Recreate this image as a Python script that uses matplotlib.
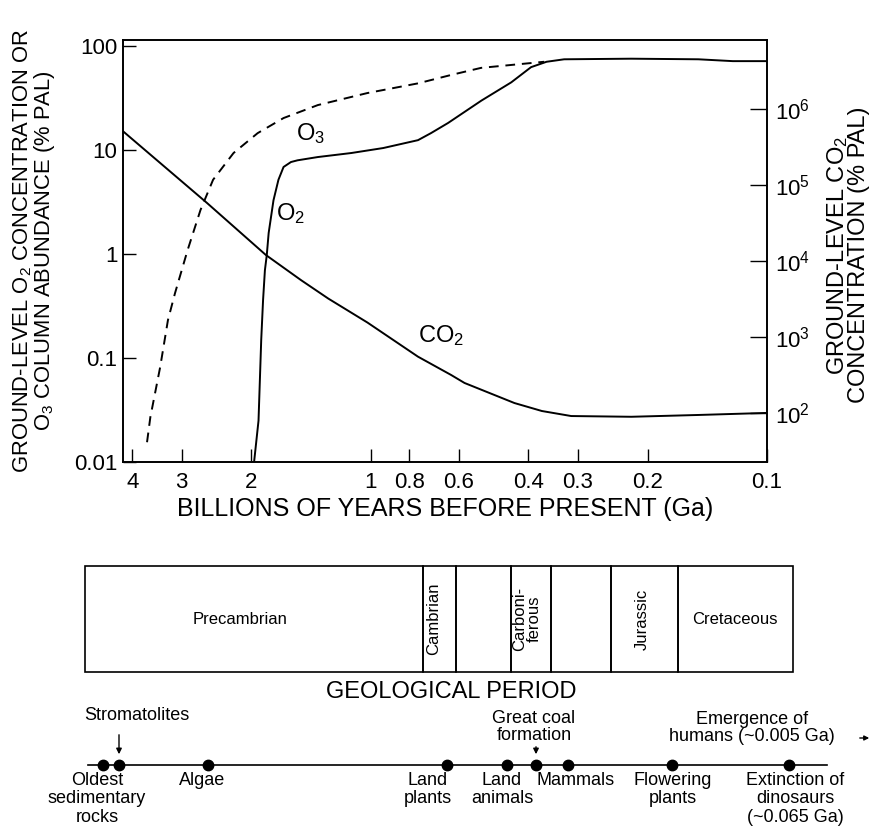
import matplotlib
matplotlib.use('Agg')
import matplotlib.pyplot as plt
from matplotlib.ticker import FixedLocator, FixedFormatter, NullLocator

plt.rcParams['font.family'] = ['Liberation Sans', 'DejaVu Sans']
plt.rcParams['mathtext.default'] = 'regular'

# ---------------- data ----------------
# O2 ground-level concentration (% PAL) vs age (Ga)
o2_age = [1.97, 1.92, 1.89, 1.87, 1.85, 1.83, 1.81, 1.76, 1.71, 1.66, 1.59, 1.53,
          1.36, 1.12, 0.93, 0.76, 0.705, 0.638, 0.526, 0.442, 0.394, 0.36, 0.325,
          0.22, 0.149, 0.122, 0.1]
o2_val = [0.01, 0.025, 0.15, 0.36, 0.7, 0.98, 1.6, 3.3, 5.2, 6.9, 7.7, 8.0,
          8.6, 9.4, 10.5, 12.5, 14.6, 18.3, 30, 45, 63, 71, 75,
          76, 75, 72, 72]
# O3 column abundance (% PAL)
o3_age = [3.67, 3.6, 3.4, 3.25, 3.12, 2.9, 2.69, 2.5, 2.22, 1.93, 1.66, 1.36,
          1.02, 0.76, 0.627, 0.527, 0.365]
o3_val = [0.0155, 0.027, 0.082, 0.232, 0.42, 1.09, 2.66, 5.2, 9.4, 14.6, 20.4, 27.2,
          35.5, 44, 53, 62, 71]
# CO2 ground-level concentration (% PAL), right axis
co2_age = [4.22, 2.59, 1.84, 1.50, 1.28, 1.02, 0.76, 0.627, 0.58, 0.434, 0.37,
           0.312, 0.22, 0.149, 0.1]
co2_val = [5.1e5, 5.8e4, 1.2e4, 5.6e3, 3.2e3, 1.55e3, 550, 316, 248, 135, 106,
           91, 89, 94, 100]

x_ticks = [4, 3, 2, 1, 0.8, 0.6, 0.4, 0.3, 0.2, 0.1]
x_ticklabels = ['4', '3', '2', '1', '0.8', '0.6', '0.4', '0.3', '0.2', '0.1']
yl_ticks = [0.01, 0.1, 1, 10, 100]
yl_ticklabels = ['0.01', '0.1', '1', '10', '100']
yr_ticks = [1e2, 1e3, 1e4, 1e5, 1e6]
yr_ticklabels = ['10$^2$', '10$^3$', '10$^4$', '10$^5$', '10$^6$']

# geological periods (schematic positions along the period bar)
period_names = ['Precambrian', 'Cambrian', '', 'Carboni-\nferous', '', 'Jurassic', 'Cretaceous']
period_rot = [0, 90, 0, 90, 0, 90, 0]
period_edges = [85, 423, 456, 511, 551, 611, 678, 793]
period_label_x = [240, 434, None, 527, None, 642, 735]

# events along the schematic timeline
event_pos = [103, 119, 208, 447, 507, 536, 568, 672, 789]
below_labels = ['Oldest\nsedimentary\nrocks', 'Algae', 'Land\nplants', 'Land\nanimals',
                'Mammals', 'Flowering\nplants', 'Extinction of\ndinosaurs\n(~0.065 Ga)']
below_x = [97, 202, 428, 502, 576, 673, 795]
above_labels = ['Stromatolites', 'Great coal\nformation', 'Emergence of\nhumans (~0.005 Ga)']
above_x = [137, 534, 752]
above_y = [715, 727, 728]

# ---------------- figure ----------------
W, H = 876, 830
fig = plt.figure(figsize=(W / 100, H / 100), dpi=100)


def px_axes(l, t, r, b):
    return [l / W, 1 - b / H, (r - l) / W, (b - t) / H]


ax = fig.add_axes(px_axes(123, 40, 767, 462))
ax.set_xscale('log')
ax.set_yscale('log')
ax.set_xlim(4.22, 0.1)
ax.set_ylim(0.01, 115)

ax.plot(o2_age, o2_val, color='k', lw=1.4)
ax.plot(o3_age, o3_val, color='k', lw=1.4, ls=(0, (5, 3.5)))

ax.xaxis.set_major_locator(FixedLocator(x_ticks))
ax.xaxis.set_major_formatter(FixedFormatter(x_ticklabels))
ax.xaxis.set_minor_locator(NullLocator())
ax.yaxis.set_major_locator(FixedLocator(yl_ticks))
ax.yaxis.set_major_formatter(FixedFormatter(yl_ticklabels))
ax.yaxis.set_minor_locator(NullLocator())
ax.tick_params(axis='x', direction='in', length=9.5, width=1, labelsize=16, pad=7)
ax.tick_params(axis='y', direction='in', length=9.5, width=1, labelsize=16, pad=4)
for s in ax.spines.values():
    s.set_linewidth(1.2)

ax.set_xlabel('BILLIONS OF YEARS BEFORE PRESENT (Ga)', fontsize=18, labelpad=3)
ax.set_ylabel('GROUND-LEVEL O$_2$ CONCENTRATION OR\nO$_3$ COLUMN ABUNDANCE (% PAL)',
              fontsize=15.8, linespacing=0.9)
ax.yaxis.set_label_coords((57 - 123) / 644, 0.5)

ax.text(1.42, 14.6, 'O$_3$', fontsize=17, ha='center', va='center')
ax.text(1.59, 2.48, 'O$_2$', fontsize=17, ha='center', va='center')
ax.text(0.665, 0.166, 'CO$_2$', fontsize=17, ha='center', va='center')

ax2 = ax.twinx()
ax2.set_yscale('log')
ax2.set_ylim(22.6, 8.1e6)
ax2.plot(co2_age, co2_val, color='k', lw=1.4)
ax2.yaxis.set_major_locator(FixedLocator(yr_ticks))
ax2.yaxis.set_major_formatter(FixedFormatter(yr_ticklabels))
ax2.yaxis.set_minor_locator(NullLocator())
ax2.tick_params(axis='y', direction='in', length=12, width=1, labelsize=16, pad=6)
for s in ax2.spines.values():
    s.set_linewidth(1.2)
ax2.set_ylabel('GROUND-LEVEL CO$_2$\nCONCENTRATION (% PAL)', fontsize=17, linespacing=0.9)
ax2.yaxis.set_label_coords((825 - 123) / 644, 0.49)

# ---------------- bottom schematic ----------------
axb = fig.add_axes(px_axes(0, 540, 876, 830))
axb.set_xlim(0, W)
axb.set_ylim(830, 540)
axb.axis('off')

lefts = period_edges[:-1]
widths = [b - a for a, b in zip(period_edges[:-1], period_edges[1:])]
axb.bar(lefts, [106] * len(lefts), width=widths, bottom=566, align='edge', fill=False,
        edgecolor='k', linewidth=1.2)
for lx, name, rot in zip(period_label_x, period_names, period_rot):
    if name:
        axb.text(lx, 619, name, rotation=rot, ha='center', va='center',
                 fontsize=12, linespacing=1.0)
axb.text(451, 692, 'GEOLOGICAL PERIOD', fontsize=17, ha='center', va='center')

axb.plot([88, 827], [765, 765], color='k', lw=1.2)
axb.plot(event_pos, [765] * len(event_pos), 'o', color='k', ms=7.5)

for x, lab in zip(below_x, below_labels):
    axb.text(x, 772, lab, ha='center', va='top', fontsize=13, linespacing=1.1)
for x, y, lab in zip(above_x, above_y, above_labels):
    axb.text(x, y, lab, ha='center', va='center', fontsize=13, linespacing=1.05)

arrow_kw = dict(arrowstyle='-|>', lw=1, color='k', mutation_scale=8)
axb.annotate('', xy=(event_pos[1], 757), xytext=(event_pos[1], 732), arrowprops=arrow_kw)
axb.annotate('', xy=(event_pos[5], 757), xytext=(event_pos[5], 744), arrowprops=arrow_kw)
axb.annotate('', xy=(872, 738), xytext=(857, 738),
             arrowprops=dict(arrowstyle='-|>', lw=1, color='k', mutation_scale=7))

fig.savefig('out.png', dpi=100)
